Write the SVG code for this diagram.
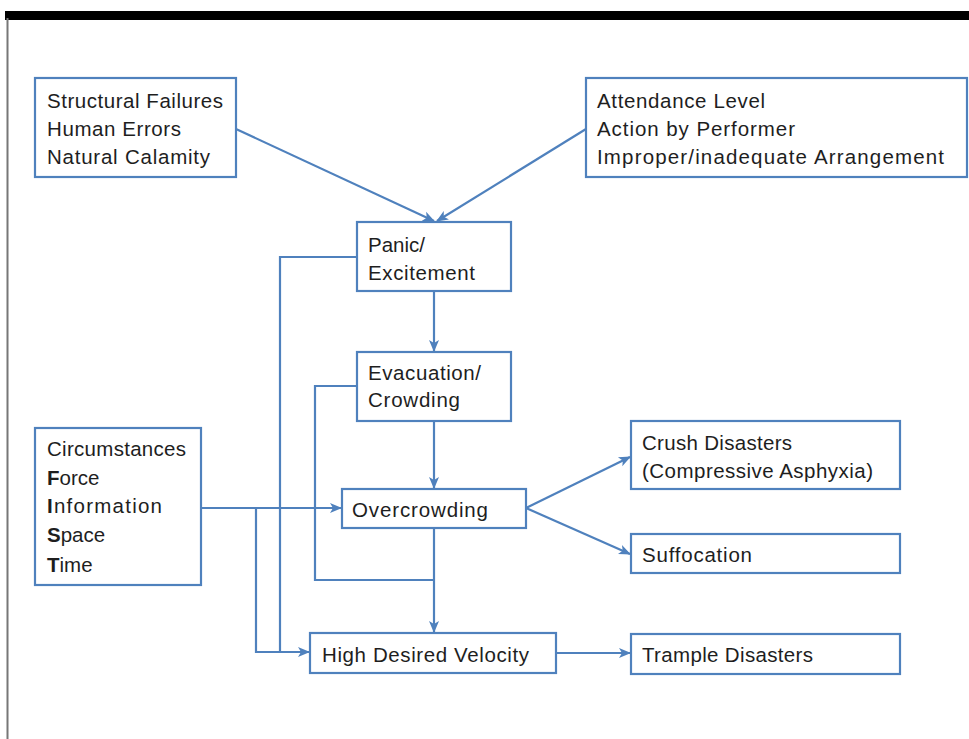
<svg xmlns="http://www.w3.org/2000/svg" width="969" height="739" viewBox="0 0 969 739">
<style>
.box{fill:#fff;stroke:#4f81bd;stroke-width:2.2}
.c{fill:none;stroke:#4f81bd;stroke-width:2.2}
text{font-family:"Liberation Sans",Arial,sans-serif;font-size:20.5px;fill:#1e1e1e}
.b{font-weight:bold}
</style>
<defs>
<marker id="ah" viewBox="0 0 12 12" refX="11" refY="6" markerWidth="12" markerHeight="12" markerUnits="userSpaceOnUse" orient="auto">
<path d="M0,1 L12,6 L0,11 L3,6 z" fill="#4f81bd"/>
</marker>
</defs>
<rect x="0" y="0" width="969" height="739" fill="#fff"/>
<rect x="5" y="11" width="964" height="9" fill="#000"/>
<line x1="7.5" y1="18" x2="7.5" y2="739" stroke="#777" stroke-width="2"/>

<g id="connectors">
<line class="c" x1="236" y1="129" x2="434" y2="221" marker-end="url(#ah)"/>
<line class="c" x1="586" y1="129" x2="437" y2="221" marker-end="url(#ah)"/>
<line class="c" x1="434" y1="291" x2="434" y2="351" marker-end="url(#ah)"/>
<line class="c" x1="434" y1="421" x2="434" y2="488" marker-end="url(#ah)"/>
<line class="c" x1="201" y1="508" x2="341" y2="508" marker-end="url(#ah)"/>
<polyline class="c" points="256,508 256,652 309,652" marker-end="url(#ah)"/>
<polyline class="c" points="357,257 280,257 280,652"/>
<polyline class="c" points="357,386 315,386 315,580 434,580"/>
<line class="c" x1="434" y1="528" x2="434" y2="632" marker-end="url(#ah)"/>
<line class="c" x1="526" y1="508" x2="630" y2="457" marker-end="url(#ah)"/>
<line class="c" x1="526" y1="508" x2="630" y2="554" marker-end="url(#ah)"/>
<line class="c" x1="556" y1="653" x2="630" y2="653" marker-end="url(#ah)"/>
</g>

<g id="causes">
<rect class="box" x="35" y="78" width="201" height="99"/>
<text x="47" y="108" textLength="176">Structural Failures</text>
<text x="47" y="136" textLength="134">Human Errors</text>
<text x="47" y="164" textLength="163">Natural Calamity</text>
</g>
<g id="factors">
<rect class="box" x="586" y="78" width="381" height="99"/>
<text x="597" y="108" textLength="168">Attendance Level</text>
<text x="597" y="136" textLength="198">Action by Performer</text>
<text x="597" y="164" textLength="347">Improper/inadequate Arrangement</text>
</g>
<g id="panic">
<rect class="box" x="357" y="222" width="154" height="69"/>
<text x="368" y="252">Panic/</text>
<text x="368" y="280" textLength="107">Excitement</text>
</g>
<g id="evacuation">
<rect class="box" x="357" y="352" width="154" height="69"/>
<text x="368" y="380" textLength="113">Evacuation/</text>
<text x="368" y="407" textLength="92">Crowding</text>
</g>
<g id="circumstances">
<rect class="box" x="35" y="428" width="166" height="157"/>
<text x="47" y="456" textLength="139">Circumstances</text>
<text x="47" y="485"><tspan class="b">F</tspan>orce</text>
<text x="47" y="513" textLength="115"><tspan class="b">I</tspan>nformation</text>
<text x="47" y="542"><tspan class="b">S</tspan>pace</text>
<text x="47" y="572"><tspan class="b">T</tspan>ime</text>
</g>
<g id="overcrowding">
<rect class="box" x="342" y="489" width="184" height="39"/>
<text x="352" y="517" textLength="136">Overcrowding</text>
</g>
<g id="crush">
<rect class="box" x="631" y="421" width="269" height="68"/>
<text x="642" y="450" textLength="150">Crush Disasters</text>
<text x="642" y="478" textLength="231">(Compressive Asphyxia)</text>
</g>
<g id="suffocation">
<rect class="box" x="631" y="534" width="269" height="39"/>
<text x="642" y="562" textLength="110">Suffocation</text>
</g>
<g id="velocity">
<rect class="box" x="310" y="633" width="246" height="40"/>
<text x="322" y="662" textLength="207">High Desired Velocity</text>
</g>
<g id="trample">
<rect class="box" x="631" y="634" width="269" height="40"/>
<text x="642" y="662" textLength="171">Trample Disasters</text>
</g>
</svg>
